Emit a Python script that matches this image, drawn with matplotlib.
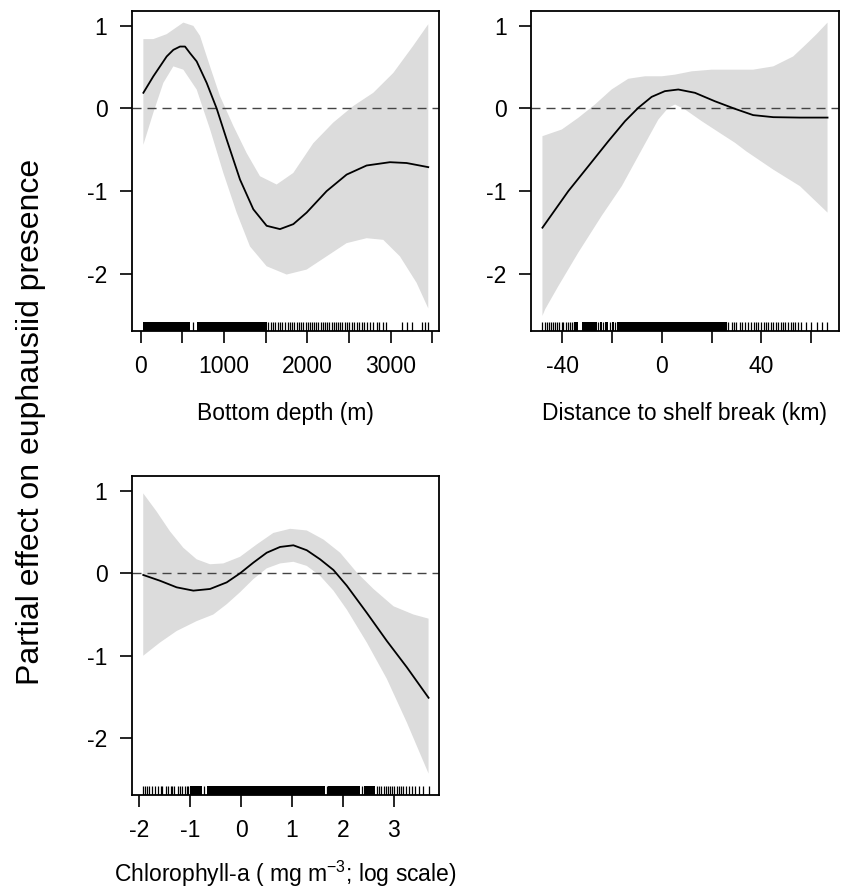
import numpy as np
import matplotlib
matplotlib.use("Agg")
import matplotlib.pyplot as plt

plt.rcParams['font.family'] = ['Liberation Sans', 'DejaVu Sans']
plt.rcParams['mathtext.fontset'] = 'custom'
plt.rcParams['mathtext.rm'] = 'Liberation Sans'
plt.rcParams['mathtext.it'] = 'Liberation Sans:italic'
plt.rcParams['axes.unicode_minus'] = False

# --- Bottom depth (m) ---
depth_fit_x = [32, 152, 312, 392, 472, 532, 592, 672, 792, 912, 1032, 1192, 1352, 1512,
               1672, 1832, 1992, 2232, 2472, 2712, 2992, 3192, 3452]
depth_fit = [0.19, 0.39, 0.63, 0.71, 0.75, 0.75, 0.67, 0.57, 0.31, 0.0, -0.375, -0.86,
             -1.22, -1.42, -1.46, -1.40, -1.26, -1.0, -0.80, -0.69, -0.65, -0.66, -0.71]
depth_up_x = [32, 152, 312, 512, 632, 712, 832, 952, 1112, 1272, 1432, 1632, 1832,
              2072, 2312, 2552, 2792, 3032, 3272, 3452]
depth_up = [0.84, 0.84, 0.90, 1.04, 1.00, 0.88, 0.51, 0.15, -0.21, -0.54, -0.82, -0.92,
            -0.78, -0.42, -0.17, 0.03, 0.19, 0.43, 0.76, 1.02]
depth_lo_x = [32, 152, 272, 392, 512, 672, 832, 992, 1152, 1312, 1512, 1752, 1992,
              2232, 2472, 2712, 2912, 3112, 3312, 3452]
depth_lo = [-0.44, -0.05, 0.31, 0.51, 0.47, 0.23, -0.25, -0.78, -1.26, -1.67, -1.91, -2.01,
            -1.95, -1.79, -1.63, -1.57, -1.59, -1.79, -2.11, -2.42]
depth_rug_spans = [(31, 592), (672, 1512)]
depth_rug = [632, 1532, 1564, 1584, 1612, 1644, 1676, 1700, 1732, 1764, 1796, 1820, 1844,
             1876, 1900, 1928, 1952, 1980, 2004, 2028, 2056, 2080, 2108, 2132, 2160, 2184,
             2212, 2236, 2264, 2292, 2316, 2344, 2368, 2396, 2420, 2452, 2476, 2504, 2532,
             2560, 2592, 2620, 2652, 2684, 2716, 2752, 2788, 2832, 2864, 2912, 2940,
             3132, 3192, 3252, 3380, 3412, 3444]

# --- Distance to shelf break (km) ---
dist_fit_x = [-48.0, -37.6, -29.6, -21.5, -14.8, -9.5, -4.1, 1.2, 6.6, 13.3, 21.3,
              29.4, 36.7, 44.8, 55.5, 66.6]
dist_fit = [-1.443, -1.0, -0.70, -0.395, -0.153, 0.008, 0.141, 0.21, 0.23, 0.19, 0.088,
            -0.004, -0.08, -0.105, -0.11, -0.11]
dist_up_x = [-48.0, -40.2, -33.6, -26.9, -20.2, -13.5, -6.8, 0.0, 5.3, 12.0, 20.0,
             28.0, 36.7, 44.8, 52.8, 58.1, 62.2, 66.6]
dist_up = [-0.335, -0.254, -0.113, 0.048, 0.23, 0.36, 0.39, 0.39, 0.41, 0.45, 0.47,
           0.47, 0.47, 0.51, 0.63, 0.78, 0.90, 1.04]
dist_lo_x = [-48.0, -46.9, -41.6, -33.6, -24.2, -16.1, -8.1, -1.4, 2.6, 5.3, 9.3,
             16.0, 24.0, 29.4, 34.0, 44.8, 55.5, 66.6]
dist_lo = [-2.51, -2.43, -2.15, -1.745, -1.30, -0.94, -0.50, -0.133, 0.008, 0.048, -0.012,
           -0.153, -0.31, -0.415, -0.52, -0.74, -0.94, -1.26]
dist_rug_spans = [(-35.2, -33.8), (-32.2, -26.2), (-24.9, -24.2), (-22.8, -21.8),
                  (-19.9, -19.4), (-18.2, 26.0)]
dist_rug = [-48.0, -46.9, -46.1, -45.3, -44.7, -43.6, -42.9, -42.1, -41.3, -40.2, -39.6,
            -38.6, -37.8, -37.0, -36.2, -35.4, -25.5, -23.5, -20.8, -18.8,
            26.7, 28.0, 29.1, 30.0, 31.4, 32.3, 33.4, 34.7, 35.8, 36.9, 37.7, 38.7, 39.8,
            40.9, 41.9, 42.7, 43.8, 44.8, 45.7, 46.8, 47.8, 48.8, 49.7, 50.8, 51.8, 52.8,
            53.7, 54.8, 56.1, 58.1, 59.9, 62.2, 64.2, 66.2]

# --- Chlorophyll-a (log scale) ---
chl_fit_x = [-1.923, -1.594, -1.266, -0.938, -0.610, -0.282, -0.020, 0.243, 0.505, 0.768,
             1.030, 1.293, 1.555, 1.818, 2.080, 2.474, 2.867, 3.261, 3.688]
chl_fit = [-0.02, -0.09, -0.17, -0.21, -0.19, -0.11, 0.0, 0.13, 0.25, 0.32, 0.34, 0.28,
           0.17, 0.04, -0.15, -0.48, -0.82, -1.14, -1.51]
chl_up_x = [-1.923, -1.660, -1.398, -1.135, -0.873, -0.610, -0.348, -0.020, 0.308, 0.636,
            0.965, 1.293, 1.621, 1.949, 2.277, 2.605, 2.999, 3.392, 3.688]
chl_up = [0.97, 0.75, 0.51, 0.31, 0.17, 0.11, 0.12, 0.20, 0.35, 0.49, 0.54, 0.52, 0.41,
          0.25, 0.01, -0.19, -0.40, -0.50, -0.55]
chl_lo_x = [-1.923, -1.594, -1.266, -0.873, -0.545, -0.282, -0.020, 0.243, 0.505, 0.768,
            1.030, 1.293, 1.555, 1.818, 2.080, 2.474, 2.867, 3.261, 3.688]
chl_lo = [-1.0, -0.84, -0.70, -0.58, -0.50, -0.375, -0.23, -0.07, 0.06, 0.12, 0.14, 0.09,
          -0.03, -0.21, -0.44, -0.84, -1.28, -1.81, -2.43]
chl_rug_spans = [(-1.002, -0.772), (-0.674, 1.655), (1.72, 2.345), (2.41, 2.64)]
chl_rug = [-1.92, -1.888, -1.855, -1.809, -1.743, -1.691, -1.625, -1.573, -1.547, -1.481,
           -1.429, -1.376, -1.350, -1.310, -1.245, -1.199, -1.166, -1.100, -1.068, -1.035,
           -0.72, 1.688, 2.38, 2.679, 2.719, 2.758, 2.804, 2.850, 2.889, 2.929, 2.968, 3.014,
           3.060, 3.099, 3.145, 3.191, 3.244, 3.296, 3.362, 3.427, 3.506, 3.572, 3.70]

y_ticks = [-2, -1, 0, 1]

FS = 16.5
fig = plt.figure(figsize=(8.41, 8.89), dpi=100)


def panel(rect, fx, fy, ux, uy, lx, ly, spans, rug, xlim, xticks, xticklabels, xlabel,
          labelpad=17):
    ax = fig.add_axes(rect)
    ax.fill(np.r_[ux, lx[::-1]], np.r_[uy, ly[::-1]], color='#dcdcdc', lw=0)
    ax.axhline(0, color='#444444', lw=1.0, ls=(0, (6.5, 4.3)))
    ax.plot(fx, fy, color='black', lw=1.3)
    for a, b in spans:
        ax.axvspan(a, b, ymin=0, ymax=0.028, color='black', lw=0)
    ax.vlines(rug, 0, 0.028, transform=ax.get_xaxis_transform(), color='black', lw=0.9)
    ax.set_xlim(xlim)
    ax.set_ylim(-2.69, 1.18)
    ax.set_xticks(xticks)
    ax.set_xticklabels(xticklabels)
    ax.set_yticks(y_ticks)
    ax.tick_params(labelsize=FS, length=8.5, width=1.2, pad=9)
    for s in ax.spines.values():
        s.set_linewidth(1.3)
    ax.set_xlabel(xlabel, fontsize=FS, labelpad=labelpad)
    return ax


panel([0.1566, 0.628, 0.3658, 0.3596], depth_fit_x, depth_fit, depth_up_x, depth_up,
      depth_lo_x, depth_lo, depth_rug_spans, depth_rug, (-108, 3585),
      [0, 500, 1000, 1500, 2000, 2500, 3000, 3500],
      ['0', '', '1000', '', '2000', '', '3000', ''], 'Bottom depth (m)')

panel([0.6314, 0.628, 0.3662, 0.3596], dist_fit_x, dist_fit, dist_up_x, dist_up,
      dist_lo_x, dist_lo, dist_rug_spans, dist_rug, (-52.6, 71.2),
      [-40, -20, 0, 20, 40, 60], ['-40', '', '0', '', '40', ''],
      'Distance to shelf break (km)')

panel([0.1566, 0.1057, 0.3658, 0.3588], chl_fit_x, chl_fit, chl_up_x, chl_up,
      chl_lo_x, chl_lo, chl_rug_spans, chl_rug, (-2.15, 3.9),
      [-2, -1, 0, 1, 2, 3], ['-2', '-1', '0', '1', '2', '3'],
      r'Chlorophyll-a ( mg m$^{-3}$; log scale)', labelpad=12)

fig.text(0.037, 0.525, 'Partial effect on euphausiid presence', rotation=90,
         ha='center', va='center', fontsize=23)

fig.savefig('out.png', dpi=100)
